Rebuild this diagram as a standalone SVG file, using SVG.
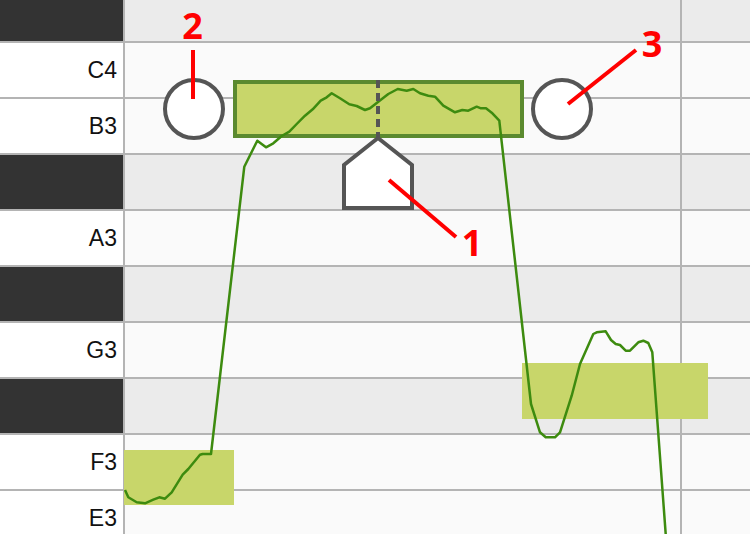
<svg xmlns="http://www.w3.org/2000/svg" width="750" height="534" viewBox="0 0 750 534">
<style>
.wrow{fill:#fafafa}
.brow{fill:#ebebeb}
.wkey{fill:#ffffff}
.bkey{fill:#333333}
.grid{stroke:#b4b4b4;stroke-width:2;fill:none}
.klabel{font-family:"Liberation Sans",Arial,sans-serif;font-size:23px;fill:#111;text-anchor:end}
.note{fill:#c8d66a}
.outline{fill:#ffffff;stroke:#555555;stroke-width:4}
.callout{stroke:#ff0000;stroke-width:4;fill:none}
.num{font-family:"Open Sans","Noto Sans",sans-serif;font-weight:bold;font-size:36px;fill:#ff0000;text-anchor:middle}
.pitch{fill:none;stroke:#3d8b0f;stroke-width:2.5;stroke-linejoin:round}
</style>
<g id="background">
<rect x="124" y="0" width="626" height="42" class="brow"/>
<rect x="124" y="42" width="626" height="112" class="wrow"/>
<rect x="124" y="154" width="626" height="56" class="brow"/>
<rect x="124" y="210" width="626" height="56" class="wrow"/>
<rect x="124" y="266" width="626" height="56" class="brow"/>
<rect x="124" y="322" width="626" height="56" class="wrow"/>
<rect x="124" y="378" width="626" height="56" class="brow"/>
<rect x="124" y="434" width="626" height="100" class="wrow"/>
<rect x="0" y="0" width="124" height="534" class="wkey"/>
<g class="grid">
<line x1="0" y1="42" x2="750" y2="42"/>
<line x1="0" y1="98" x2="750" y2="98"/>
<line x1="0" y1="154" x2="750" y2="154"/>
<line x1="0" y1="210" x2="750" y2="210"/>
<line x1="0" y1="266" x2="750" y2="266"/>
<line x1="0" y1="322" x2="750" y2="322"/>
<line x1="0" y1="378" x2="750" y2="378"/>
<line x1="0" y1="434" x2="750" y2="434"/>
<line x1="0" y1="490" x2="750" y2="490"/>
<line x1="124" y1="0" x2="124" y2="534"/>
<line x1="681" y1="0" x2="681" y2="534"/>
</g>
<rect x="0" y="0" width="123" height="41" class="bkey"/>
<rect x="0" y="155" width="123" height="54" class="bkey"/>
<rect x="0" y="267" width="123" height="54" class="bkey"/>
<rect x="0" y="379" width="123" height="54" class="bkey"/>
</g>
<g id="key-labels">
<text x="117" y="78" class="klabel">C4</text>
<text x="117" y="134" class="klabel">B3</text>
<text x="117" y="246" class="klabel">A3</text>
<text x="117" y="358" class="klabel">G3</text>
<text x="117" y="470" class="klabel">F3</text>
<text x="117" y="526" class="klabel">E3</text>
</g>
<g id="note-f3"><rect x="124" y="450" width="110" height="55" class="note"/></g>
<g id="note-g3"><rect x="522" y="363" width="186" height="56" class="note"/></g>
<g id="note-b3"><rect x="235" y="82" width="287" height="54" class="note" stroke="#5b8a2f" stroke-width="4"/></g>
<g id="pitch-curve">
<polyline class="pitch" points="125,490 128.3,497.3 136.7,502.3 145,503.3 153.3,499.7 159.3,497.3 165,498.7 171.7,492.3 182.7,474.7 188.3,469 200,454.7 202.7,454 211,454 244.3,166.7 257.3,140.7 266,147.3 273.3,143.3 281.7,136 289.3,131.7 296.7,124 305,115.7 312.7,109.3 320.7,100.7 326.7,97.3 331.7,93.3 340,98.3 349.3,104.3 356.7,106 365,110 370,108.3 378.3,101.7 388.3,94 397.7,89 406.7,90.7 413.3,89 420,93.3 428.3,95.7 435,96.7 443.3,105.7 455,112.3 462.3,110 468.3,110.7 476.7,106.7 481,108.3 486,108.3 491.7,112.7 499.3,120.7 531,404 540,432.3 545.7,437.3 555,437.3 560,432.3 571.7,395.7 580,364 593.3,334 596.7,332.3 605.7,331.3 611,340 615.7,344 620,345 625.7,350.7 630,350.7 638.3,342.3 643.3,340.7 648.3,343 652.3,352.3 665.7,534"/>
</g>
<g id="playhead">
<line x1="378" y1="80" x2="378" y2="138" stroke="#555555" stroke-width="4" stroke-dasharray="8,5"/>
<polygon points="378,138 412,165 412,208 344,208 344,165" class="outline"/>
</g>
<g id="marker-2"><circle cx="194" cy="109" r="29" class="outline"/></g>
<g id="marker-3"><circle cx="562" cy="109" r="29" class="outline"/></g>
<g id="callouts">
<line x1="193" y1="50" x2="193" y2="99" class="callout"/>
<line x1="568" y1="104" x2="636" y2="50" class="callout"/>
<line x1="389" y1="180" x2="456" y2="237" class="callout"/>
</g>
<g id="callout-labels">
<text x="192.5" y="39" class="num">2</text>
<text x="652" y="57" class="num">3</text>
<text x="472" y="256" class="num">1</text>
</g>
</svg>
